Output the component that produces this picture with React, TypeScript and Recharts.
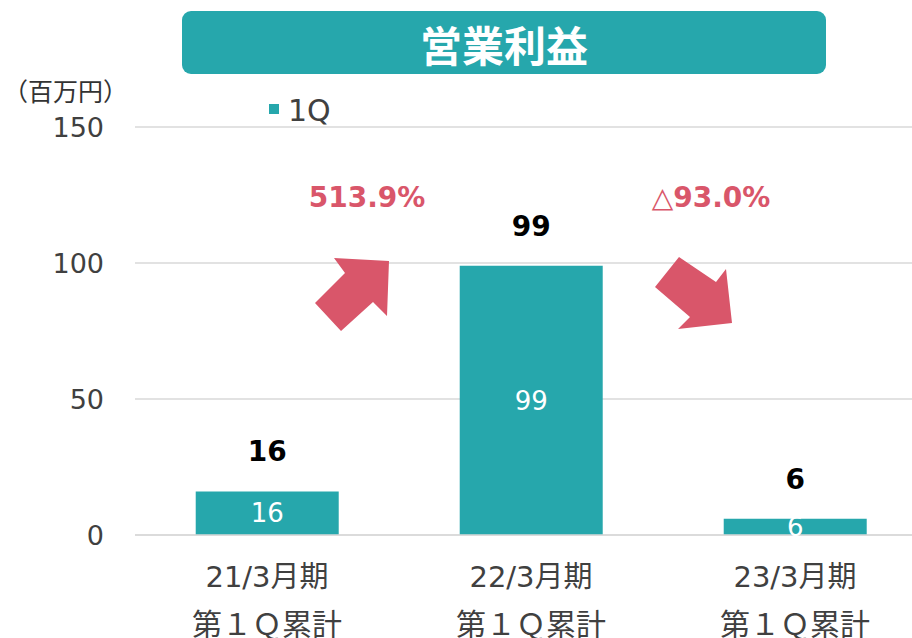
import React from 'react';
import { BarChart, Bar, XAxis, YAxis, CartesianGrid, LabelList } from 'recharts';

const categories = ['21/3月期', '22/3月期', '23/3月期'];
const subLabels = ['第１Ｑ累計', '第１Ｑ累計', '第１Ｑ累計'];
const values = [16, 99, 6];
const yTicks = [0, 50, 100, 150];
const growthLabels = ['513.9%', '△93.0%'];
const seriesName = '1Q';
const title = '営業利益';
const unitLabel = '（百万円）';

const TEAL = '#26A7AC';
const RED = '#D9566A';
const LATIN = '"DejaVu Sans", "Noto Sans CJK JP", sans-serif';
const CJK = '"Noto Sans CJK JP", sans-serif';

const data = categories.map((c, i) => ({ name: c, sub: subLabels[i], value: values[i] }));

const XTick = (props: any) => {
  const { x, y, payload, index } = props;
  return (
    <g>
      <text x={x} y={y + 42} textAnchor="middle" dominantBaseline="central" fontSize={29} fill="#404040" fontFamily={LATIN}>
        {payload.value}
      </text>
      <text x={x} y={y + 87} textAnchor="middle" dominantBaseline="central" fontSize={30} fill="#404040" fontFamily={CJK}>
        {subLabels[index]}
      </text>
    </g>
  );
};

export default function App() {
  return (
    <div style={{ position: 'absolute', left: 0, top: 0, width: 912, height: 638, overflow: 'hidden', background: '#fff' }}>
      <BarChart width={930} height={638} data={data} margin={{ top: 127, right: 3, bottom: 3, left: 0 }} barCategoryGap="23%">
        <CartesianGrid vertical={false} stroke="#d9d9d9" strokeWidth={1.5} />
        <XAxis
          dataKey="name"
          height={100}
          tickLine={false}
          tickSize={0}
          tickMargin={0}
          axisLine={{ stroke: '#d9d9d9', strokeWidth: 1.5 }}
          tick={<XTick />}
          interval={0}
        />
        <YAxis
          width={135}
          domain={[0, 150]}
          ticks={yTicks}
          axisLine={false}
          tickLine={false}
          tickSize={0}
          tickMargin={31}
          tick={{ fontSize: 27, fill: '#404040', fontFamily: LATIN }}
        />
        <Bar dataKey="value" name={seriesName} fill={TEAL} isAnimationActive={false}>
          <LabelList dataKey="value" position="center" fill="#ffffff" fontSize={26} fontFamily={LATIN} />
          <LabelList dataKey="value" position="top" offset={30} fill="#000000" fontSize={28} fontWeight="bold" fontFamily={LATIN} />
        </Bar>
      </BarChart>
      <svg width={912} height={638} style={{ position: 'absolute', left: 0, top: 0, pointerEvents: 'none' }}>
        <rect x={182} y={11} width={644} height={63} rx={9} ry={9} fill={TEAL} />
        <text x={504} y={43} textAnchor="middle" dominantBaseline="central" fontSize={42} fontWeight="bold" fill="#ffffff" fontFamily={CJK}>
          {title}
        </text>
        <text x={3} y={90} dominantBaseline="central" fontSize={25} fill="#333333" fontFamily={CJK}>
          {unitLabel}
        </text>
        <rect x={269} y={104} width={10} height={10} fill={TEAL} />
        <text x={288} y={110} dominantBaseline="central" fontSize={30} fill="#404040" fontFamily={LATIN}>
          {seriesName}
        </text>
        <text x={367} y={197} textAnchor="middle" dominantBaseline="central" fontSize={28} fontWeight="bold" fill={RED} fontFamily={LATIN}>
          {growthLabels[0]}
        </text>
        <text x={711} y={197} textAnchor="middle" dominantBaseline="central" fontSize={28} fontWeight="bold" fill={RED} fontFamily={LATIN}>
          {growthLabels[1]}
        </text>
        <polygon points="389,261 334,258 345,273 315,303 341,331 373,302 387,316" fill={RED} />
        <polygon points="732,323 678,329 690,317 655,287 679,257 716,282 726,269" fill={RED} />
      </svg>
    </div>
  );
}
